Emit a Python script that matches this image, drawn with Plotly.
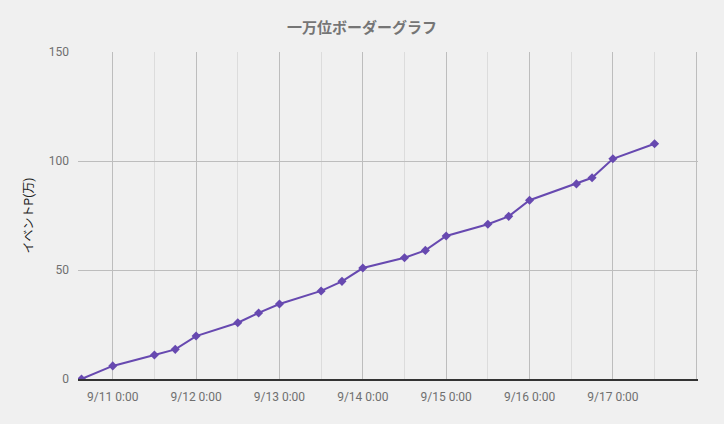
import plotly.graph_objects as go

# 時刻とイベントP(万)
times = [
    "2023-09-10 15:00", "2023-09-11 00:00", "2023-09-11 12:00", "2023-09-11 18:00",
    "2023-09-12 00:00", "2023-09-12 12:00", "2023-09-12 18:00", "2023-09-13 00:00",
    "2023-09-13 12:00", "2023-09-13 18:00", "2023-09-14 00:00", "2023-09-14 12:00",
    "2023-09-14 18:00", "2023-09-15 00:00", "2023-09-15 12:00", "2023-09-15 18:00",
    "2023-09-16 00:00", "2023-09-16 13:30", "2023-09-16 18:00", "2023-09-17 00:00",
    "2023-09-17 12:00",
]
points = [
    0, 6.0, 11.0, 13.6,
    19.7, 25.8, 30.3, 34.4,
    40.4, 44.8, 50.9, 55.6,
    59.0, 65.6, 71.0, 74.6,
    82.0, 89.5, 92.3, 101.0,
    107.9,
]
title = "一万位ボーダーグラフ"
y_title = "イベントP(万)"

fig = go.Figure()
fig.add_trace(go.Scatter(
    x=times, y=points, mode="lines+markers",
    line=dict(color="#6749b0", width=2),
    marker=dict(symbol="diamond", size=7, color="#6749b0"),
    showlegend=False,
))

fig.update_layout(
    width=724, height=424,
    paper_bgcolor="#f0f0f0", plot_bgcolor="#f0f0f0",
    font=dict(family="Roboto, Noto Sans CJK JP", size=12, color="#6f6f6f"),
    margin=dict(l=78, r=26, t=52, b=45),
    title=dict(text="<b>" + title + "</b>", x=0.5, xref="container", xanchor="center",
               y=0.935, yanchor="middle",
               font=dict(size=15, color="#757575")),
)
fig.update_xaxes(
    type="date",
    range=["2023-09-10 14:00", "2023-09-18 00:30"],
    tick0="2023-09-11", dtick=86400000,
    tickformat="%-m/%-d %-H:%M",
    labelalias={"9/18 0:00": " "},
    automargin=False,
    showgrid=True, gridcolor="#bdbdbd", gridwidth=1,
    minor=dict(dtick=43200000, tick0="2023-09-11", showgrid=True, gridcolor="#dcdcdc", gridwidth=1),
    showline=True, linecolor="#333333", linewidth=1.5,
    ticks="", ticklabelstandoff=6,
    zeroline=False,
)
fig.update_yaxes(
    range=[0, 150], dtick=50,
    automargin=False,
    showgrid=True, gridcolor="#bdbdbd", gridwidth=1,
    zeroline=False, showline=False, ticks="",
    ticklabelstandoff=8,
    title=dict(text=y_title, font=dict(size=12, color="#222222"), standoff=12),
)

fig.write_html("out.html", config={"displayModeBar": False},
               post_script="document.body.style.margin='0';")
